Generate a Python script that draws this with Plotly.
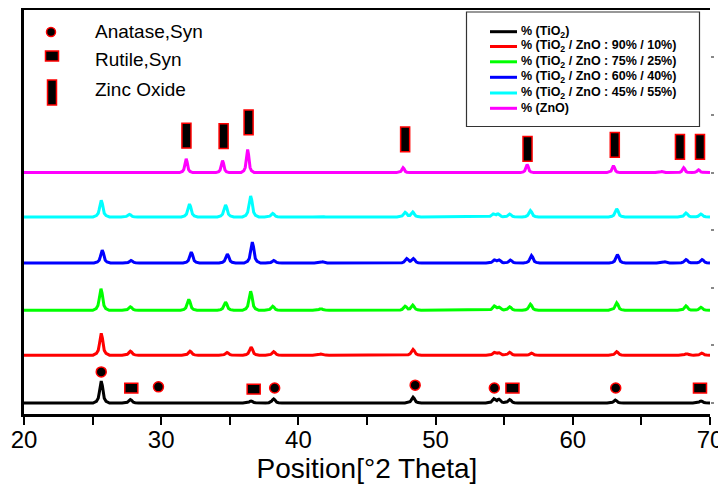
import numpy as np
import plotly.graph_objects as go

# ---------------- data ----------------
X_MIN, X_MAX = 20, 70

series_names = [
    "% (TiO<sub>2</sub>)",
    "% (TiO<sub>2</sub> / ZnO : 90% / 10%)",
    "% (TiO<sub>2</sub> / ZnO : 75% / 25%)",
    "% (TiO<sub>2</sub> / ZnO : 60% / 40%)",
    "% (TiO<sub>2</sub> / ZnO : 45% / 55%)",
    "% (ZnO)",
]
series_colors = ["#000000", "#FF0000", "#00FF00", "#0000FF", "#00FFFF", "#FF00FF"]
series_offsets = [0, 83, 161, 243, 323, 400]   # vertical stacking offsets (a.u.)

tio2_pos = [25.63, 27.75, 36.55, 38.20, 48.36, 54.25, 54.62, 55.40, 63.10, 69.35]
tio2_h = [38, 6, 3.5, 7, 10, 7, 6, 6, 5, 3.5]

m90_pos = [25.63, 27.75, 32.10, 34.80, 36.55, 38.20, 41.64, 48.36, 54.28, 54.62, 55.40, 56.99, 63.20, 68.30, 69.40]
m90_h = [38, 7, 7, 4.5, 14, 6, 2, 10, 4.5, 4, 5, 3.5, 6, 2.5, 3.5]

m75_pos = [25.61, 27.75, 32.01, 34.69, 36.52, 38.13, 41.64, 47.78, 48.34, 54.28, 54.62, 55.40, 56.91, 63.20, 68.25, 69.34]
m75_h = [37.5, 6, 19, 14, 33, 7, 3, 7, 9, 7, 5, 6, 10.5, 13, 7.5, 5]

m60_pos = [25.70, 27.80, 32.19, 34.82, 36.64, 38.20, 41.76, 47.90, 48.38, 54.28, 54.62, 55.45, 56.99, 63.25, 66.71, 68.25, 69.42]
m60_h = [22.5, 4.5, 19, 15.5, 36.5, 4.5, 2, 7.5, 7.5, 5, 5, 5, 13, 14.5, 2, 6, 6]

m45_pos = [25.63, 27.68, 32.06, 34.69, 36.52, 38.13, 41.64, 47.78, 48.34, 54.19, 54.55, 55.40, 56.91, 63.20, 68.25, 69.34]
m45_h = [29, 4.5, 22.5, 21, 36.5, 6, 1.5, 8, 8.5, 5, 5, 5, 11, 14, 7, 5]

zno_pos = [31.82, 34.47, 36.30, 47.63, 56.67, 62.96, 66.49, 68.08, 69.17]
zno_h = [24, 21, 40, 8.5, 14, 12, 2, 8.5, 5]

series_pos = [tio2_pos, m90_pos, m75_pos, m60_pos, m45_pos, zno_pos]
series_h = [tio2_h, m90_h, m75_h, m60_h, m45_h, zno_h]
series_width = [1.0, 1.0, 1.0, 1.0, 1.0, 0.8]

# Phase identification marks
anatase_pos = [25.63, 29.80, 38.27, 48.51, 54.28, 63.13]
anatase_y = [54, 28, 26, 31, 26, 26]
rutile_pos = [27.82, 36.74, 55.60, 69.27]
rutile_y = [26, 24, 26, 26]
zincox_pos = [31.84, 34.55, 36.37, 47.78, 56.70, 63.06, 67.81, 69.27]
zincox_y = [464, 463.5, 487, 457.5, 441, 448, 444.5, 444.5]

phase_names = ["Anatase,Syn", "Rutile,Syn", "Zinc Oxide"]

# peak profile template (relative offset in °2θ, relative height)
prof_off = np.array([-0.6, -0.35, -0.22, -0.15, -0.08, 0.0, 0.08, 0.15, 0.22, 0.35, 0.6])
prof_val = np.array([0.0, 0.08, 0.22, 0.45, 0.8, 1.0, 0.8, 0.45, 0.22, 0.08, 0.0])


def pattern(pos, h, base, w):
    xs = [X_MIN, X_MAX]
    for c in pos:
        xs.extend(list(c + prof_off * w))
    xs = np.unique(np.clip(xs, X_MIN, X_MAX))
    ys = np.full(xs.shape, float(base))
    for c, hh in zip(pos, h):
        ys += hh * np.interp(xs - c, prof_off * w, prof_val, left=0, right=0)
    return xs, ys


fig = go.Figure()

for name, col, off, pos, h, w in zip(series_names, series_colors, series_offsets,
                                     series_pos, series_h, series_width):
    xs, ys = pattern(pos, h, off, w)
    fig.add_trace(go.Scatter(x=xs, y=ys, mode="lines", name=name,
                             line=dict(color=col, width=3), showlegend=False))

# Zinc oxide tall rectangles
fig.add_trace(go.Bar(x=zincox_pos, y=[43] * len(zincox_pos),
                     base=[v - 21.5 for v in zincox_y], width=0.66,
                     marker=dict(color="black", line=dict(color="#FF0000", width=1.5)),
                     showlegend=False, hoverinfo="skip"))
# Rutile squares
fig.add_trace(go.Bar(x=rutile_pos, y=[17] * len(rutile_pos),
                     base=[v - 8.5 for v in rutile_y], width=0.95,
                     marker=dict(color="black", line=dict(color="#FF0000", width=1.5)),
                     showlegend=False, hoverinfo="skip"))
# Anatase circles
fig.add_trace(go.Scatter(x=anatase_pos, y=anatase_y, mode="markers",
                         marker=dict(symbol="circle", size=10, color="black",
                                     line=dict(color="#FF0000", width=1.5)),
                         showlegend=False, hoverinfo="skip"))
# dummy trace for right-hand tick axis
fig.add_trace(go.Scatter(x=[None], y=[None], yaxis="y2", showlegend=False))

# ---------------- layout ----------------
# the page body adds an 8 px margin around the figure
OFF = 8
W, H = 726 - OFF, 492 - OFF
L, R, T, B = 24 - OFF, 16, 10 - OFF, 78
PW, PH = W - L - R, H - T - B


def px(xp):
    """page pixel x -> paper fraction"""
    return (xp - OFF - L) / PW


def py(yp):
    """page pixel y -> paper fraction"""
    return (H - B - (yp - OFF)) / PH


FONT = "Liberation Sans, Arial"

shapes = [
    # phase key glyphs (top-left)
    dict(type="circle", xref="paper", yref="paper",
         x0=px(46.5), x1=px(55.5), y0=py(36.5), y1=py(27.5),
         fillcolor="black", line=dict(color="#FF0000", width=1.5)),
    dict(type="rect", xref="paper", yref="paper",
         x0=px(45.5), x1=px(58.5), y0=py(61), y1=py(51),
         fillcolor="black", line=dict(color="#FF0000", width=1.5)),
    dict(type="rect", xref="paper", yref="paper",
         x0=px(47.5), x1=px(56.5), y0=py(105), y1=py(80),
         fillcolor="black", line=dict(color="#FF0000", width=1.5)),
    # series legend box (top-right)
    dict(type="rect", xref="paper", yref="paper",
         x0=px(466.5), x1=px(699.5), y0=py(126.5), y1=py(12),
         fillcolor="white", line=dict(color="#333333", width=1.2), layer="above"),
]

annotations = [
    dict(text=t, xref="paper", yref="paper", x=px(93), y=py(yy), xanchor="left",
         yanchor="middle", showarrow=False,
         font=dict(family=FONT, size=19, color="black"))
    for t, yy in zip(phase_names, [31, 59, 90])
]

legend_rows = [31.7, 46.5, 61.8, 77.3, 93.0, 108.3]
for name, col, yy in zip(series_names, series_colors, legend_rows):
    shapes.append(dict(type="line", xref="paper", yref="paper",
                       x0=px(490), x1=px(517), y0=py(yy), y1=py(yy),
                       line=dict(color=col, width=3), layer="above"))
    annotations.append(dict(text=name, xref="paper", yref="paper", x=px(519), y=py(yy),
                            xanchor="left", yanchor="middle", showarrow=False,
                            font=dict(family=FONT, size=12.5, color="black", weight="bold")))

fig.update_layout(
    width=W, height=H,
    margin=dict(l=L, r=R, t=T, b=B, autoexpand=False),
    paper_bgcolor="white", plot_bgcolor="white",
    barmode="overlay",
    font=dict(family=FONT, color="black"),
    shapes=shapes,
    annotations=annotations,
    showlegend=False,
    xaxis=dict(range=[X_MIN, X_MAX], tickvals=[20, 30, 40, 50, 60, 70],
               ticks="outside", ticklen=8, tickwidth=2, tickcolor="black",
               minor=dict(dtick=5, ticks="outside", ticklen=8, tickwidth=2, tickcolor="black"),
               showline=True, linewidth=3, linecolor="black", mirror=True,
               showgrid=False, zeroline=False, automargin=False,
               tickfont=dict(size=24), ticklabelstandoff=-6,
               title=dict(text="Position[°2 Theta]", font=dict(size=28), standoff=0)),
    yaxis=dict(range=[-19.1, 682.3], showticklabels=False, ticks="",
               showline=True, linewidth=3, linecolor="black", automargin=False,
               showgrid=False, zeroline=False),
    yaxis2=dict(range=[-19.1, 682.3], overlaying="y", side="right",
                tickvals=[0, 100, 200, 300, 400, 500, 600], ticks="outside",
                ticklen=3, tickwidth=2, tickcolor="#888888", automargin=False,
                showticklabels=False, showline=False, showgrid=False, zeroline=False),
)

fig.write_html("out.html")
